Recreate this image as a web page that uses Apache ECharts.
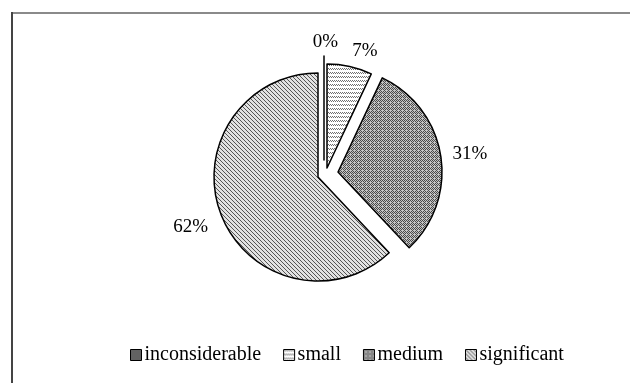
<!DOCTYPE html>
<html>
<head>
<meta charset="utf-8">
<script src="https://cdn.jsdelivr.net/npm/echarts@6/dist/echarts.min.js"></script>
<style>
  html, body { margin: 0; padding: 0; background: #fff; }
  #Share { width: 630px; height: 383px; }
</style>
</head>
<body>
<div id="Share"></div>
<script>
var categories = ['inconsiderable', 'small', 'medium', 'significant'];
var values = [0, 7, 31, 62];

// hatch tiles, pixel by pixel
function tile(w, h, bg, fg, hit) {
  var c = document.createElement('canvas');
  c.width = w; c.height = h;
  var ctx = c.getContext('2d');
  ctx.fillStyle = bg;
  ctx.fillRect(0, 0, w, h);
  ctx.fillStyle = fg;
  for (var x = 0; x < w; x++) {
    for (var y = 0; y < h; y++) {
      if (hit(x, y)) ctx.fillRect(x, y, 1, 1);
    }
  }
  return { image: c, repeat: 'repeat' };
}

var fills = [
  tile(4, 4, '#9a9a9a', '#2a2a2a', function (x, y) { return (x + y) % 2 === 0; }),
  tile(4, 4, '#ffffff', '#707070', function (x, y) { return (y === 0 && x % 2 === 0) || (y === 1 && x % 2 === 1); }),
  tile(4, 4, '#c4c4c4', '#4a4a4a', function (x, y) { return (x + y) % 2 === 0 && !(x === 2 && y === 2); }),
  tile(4, 4, '#e2e2e2', '#555555', function (x, y) { return x === y; })
];

// each slice is its own series so it can be pulled out by its own amount
var centers = [[324, 160], [327, 168], [338, 172], [318, 177]];
var labelLen = [14, 16, 12, 12];
var labelShift = [-16, -3, -2, 0];

var Share = echarts.init(document.getElementById('Share'));

var series = categories.map(function (cat, k) {
  return {
    name: cat,
    type: 'pie',
    center: centers[k],
    radius: 104,
    startAngle: 90,
    clockwise: true,
    silent: true,
    animation: false,
    avoidLabelOverlap: false,
    label: {
      position: 'outside',
      // 62% sits a bit lower than its ray, push it down with an empty line
      formatter: k === 3 ? '\n{c}%' : '{c}%',
      lineHeight: k === 3 ? 14 : 22,
      fontFamily: 'Liberation Serif',
      fontSize: 19,
      color: '#000',
      distanceToLabelLine: 2
    },
    labelLine: { show: false, length: labelLen[k], length2: labelShift[k] },
    data: categories.map(function (name, i) {
      var on = i === k;
      return {
        name: name,
        value: values[i],
        itemStyle: on
          ? { color: fills[i], borderColor: '#000', borderWidth: 1.5 }
          : { color: 'none', borderWidth: 0, opacity: 0 },
        label: { show: on }
      };
    })
  };
});

Share.setOption({
  graphic: [
    { type: 'line', shape: { x1: 12, y1: 13, x2: 640, y2: 13 }, style: { stroke: '#8a8a8a', lineWidth: 2 } },
    { type: 'line', shape: { x1: 12, y1: 12, x2: 12, y2: 390 }, style: { stroke: '#444', lineWidth: 2 } }
  ],
  legend: {
    left: 125,
    top: 340,
    icon: 'rect',
    itemWidth: 11,
    itemHeight: 11,
    itemGap: 22,
    selectedMode: false,
    textStyle: { fontFamily: 'Liberation Serif', fontSize: 20, color: '#000', padding: [0, 0, 0, -2] },
    data: categories.map(function (name, i) {
      return { name: name, itemStyle: { color: fills[i], borderColor: '#000', borderWidth: 1, opacity: 1 } };
    })
  },
  series: series
});
</script>
</body>
</html>
